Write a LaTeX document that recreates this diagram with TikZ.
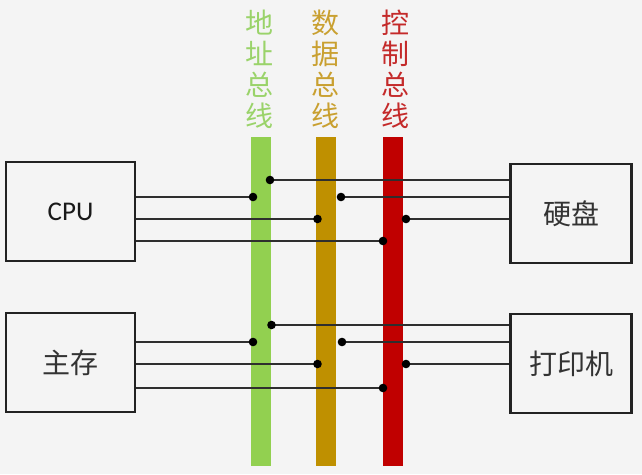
\documentclass[tikz,border=0pt]{standalone}
\usepackage{fontspec}
\newfontfamily\cjk{Noto Sans CJK SC}
\newfontfamily\lat{Carlito}
\definecolor{bg}{HTML}{F4F4F4}
\definecolor{boxline}{HTML}{222222}
\definecolor{wirecol}{HTML}{2E2E2E}
\definecolor{addr}{HTML}{92D050}
\definecolor{data}{HTML}{BF9000}
\definecolor{ctrl}{HTML}{C00000}
\definecolor{addrtxt}{HTML}{9AD36A}
\definecolor{datatxt}{HTML}{C9A030}
\definecolor{ctrltxt}{HTML}{C42A2A}
\begin{document}
\begin{tikzpicture}[x=1pt,y=-1pt,
  unit/.style={draw=boxline, line width=2.4pt, fill=bg, minimum width=129pt,
    minimum height=99pt, inner sep=0pt, text=black!80,
    font=\cjk\fontsize{28}{30}\selectfont},
  bus/.style={minimum width=20pt, minimum height=329pt, inner sep=0pt, draw=none},
  buslabel/.style={align=center, inner sep=0pt, font=\cjk\fontsize{28}{31}\selectfont},
  wire/.style={line width=1.7pt, draw=wirecol},
  tap/.style={fill=black}]
% page
\fill[bg] (0,0) rectangle (642,474);
\useasboundingbox (0,0) rectangle (642,474);

% units
\node[unit, text=black!90, font=\lat\fontsize{27}{30}\selectfont] (cpu) at (70.5,211.5) {CPU};
\node[unit] (mem) at (70.5,362.5) {主存};
\node[unit, minimum width=121pt] (disk) at (571,213.5) {硬盘};
\node[unit, minimum width=121pt] (prn) at (571,363.5) {打印机};

% buses
\node[bus, fill=addr] (abus) at (261,301.5) {};
\node[bus, fill=data] (dbus) at (326,301.5) {};
\node[bus, fill=ctrl] (cbus) at (392.5,301.5) {};

\node[buslabel, text=addrtxt] (alab) at (259,69) {地\\址\\总\\线};
\node[buslabel, text=datatxt] (dlab) at (325,69) {数\\据\\总\\线};
\node[buslabel, text=ctrltxt] (clab) at (395,69) {控\\制\\总\\线};

% tap points on the buses
\coordinate (cpuA) at (253,197);
\coordinate (cpuD) at (317.5,219);
\coordinate (cpuC) at (383,241);
\coordinate (diskA) at (270,180);
\coordinate (diskD) at (341,197);
\coordinate (diskC) at (406,219);
\coordinate (memA) at (253,342);
\coordinate (memD) at (317.5,364);
\coordinate (memC) at (383,388);
\coordinate (prnA) at (271.5,325);
\coordinate (prnD) at (342,342);
\coordinate (prnC) at (406,364);

% wires
\foreach \p in {cpuA,cpuD,cpuC}
  \draw[wire] (cpu.east |- \p) -- (\p);
\foreach \p in {memA,memD,memC}
  \draw[wire] (mem.east |- \p) -- (\p);
\foreach \p in {diskA,diskD,diskC}
  \draw[wire] (\p) -- (disk.west |- \p);
\foreach \p in {prnA,prnD,prnC}
  \draw[wire] (\p) -- (prn.west |- \p);

% junction dots
\foreach \p in {cpuA,cpuD,cpuC,diskA,diskD,diskC,memA,memD,memC,prnA,prnD,prnC}
  \fill[tap] (\p) circle[radius=4.3pt];
\end{tikzpicture}
\end{document}
